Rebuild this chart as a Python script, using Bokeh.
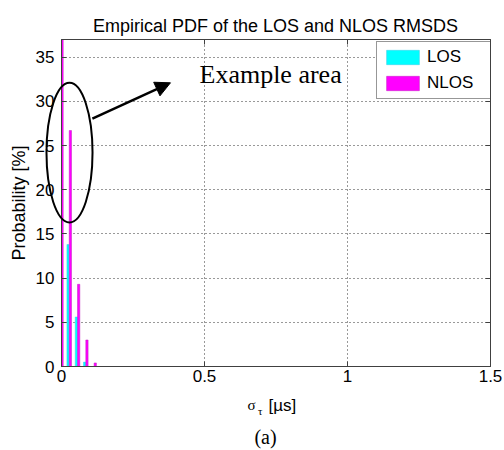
import math
from bokeh.plotting import figure
from bokeh.core.properties import value
from bokeh.models import (Range1d, FixedTicker, Label, Arrow, NormalHead, Legend,
                          LegendItem, LinearAxis, ColumnDataSource)
from bokeh.embed import file_html
from bokeh.resources import INLINE

# ---- data ----
bin_centers = [-0.002, 0.027, 0.056, 0.085, 0.114]   # sigma_tau bin centres [us]
los_pct = [80.1, 13.8, 5.6, 0.5, 0.0]                # LOS probability [%] (first bin clipped)
nlos_pct = [60.6, 26.7, 9.3, 3.0, 0.4]               # NLOS probability [%] (first bin clipped)
x_ticks = [0, 0.5, 1, 1.5]
x_tick_labels = ["0", "0.5", "1", "1.5"]
y_ticks = [0, 5, 10, 15, 20, 25, 30, 35]

dodge = 0.004
bar_w = 0.008
src = ColumnDataSource(dict(
    x_los=[c - dodge for c in bin_centers],
    x_nlos=[c + dodge for c in bin_centers],
    los=los_pct, nlos=nlos_pct))

W, H = 504, 450
FL, FR, FT, FB = 61, 490, 39, 366
X0, X1, Y0, Y1 = 0, 1.5, 0, 37

p = figure(width=W, height=H, output_backend="svg", toolbar_location=None,
           x_range=Range1d(X0, X1), y_range=Range1d(Y0, Y1),
           min_border_left=FL, min_border_right=W - FR,
           min_border_top=FT, min_border_bottom=H - FB,
           background_fill_color="white", border_fill_color="white",
           outline_line_color="#404040", outline_line_width=1)

font = "Liberation Sans"
for ax in (p.xaxis[0], p.yaxis[0]):
    ax.major_tick_in = 5
    ax.major_tick_out = 0
    ax.minor_tick_line_color = None
    ax.axis_line_color = "#404040"
    ax.major_tick_line_color = "#404040"
    ax.major_label_text_font = font
    ax.major_label_text_font_size = "17px"
    ax.major_label_text_color = "black"

p.xaxis.ticker = FixedTicker(ticks=x_ticks)
p.xaxis.major_label_overrides = {t: l for t, l in zip(x_ticks, x_tick_labels)}
p.xaxis.major_label_standoff = 3
p.yaxis.ticker = FixedTicker(ticks=y_ticks)
p.yaxis.major_label_standoff = 7

# mirrored ticks on right / top (no labels)
ra = LinearAxis(ticker=FixedTicker(ticks=y_ticks),
                major_label_overrides={t: "" for t in y_ticks},
                major_tick_in=5, major_tick_out=0, minor_tick_line_color=None,
                axis_line_color="#404040", major_tick_line_color="#404040")
ta = LinearAxis(ticker=FixedTicker(ticks=x_ticks),
                major_label_overrides={t: "" for t in x_ticks},
                major_tick_in=5, major_tick_out=0, minor_tick_line_color=None,
                axis_line_color="#404040", major_tick_line_color="#404040")
p.add_layout(ra, "right")
p.add_layout(ta, "above")

p.xgrid.ticker = FixedTicker(ticks=x_ticks)
p.ygrid.ticker = FixedTicker(ticks=y_ticks)
for g in (p.xgrid, p.ygrid):
    g.grid_line_color = "black"
    g.grid_line_alpha = 0.8
    g.grid_line_dash = "1 3"
    g.grid_line_width = 1

r_los = p.vbar(x="x_los", top="los", width=bar_w, bottom=0, source=src,
               fill_color="#00FFFF", line_color="#40C8E8", line_width=0.5)
r_nlos = p.vbar(x="x_nlos", top="nlos", width=bar_w, bottom=0, source=src,
                fill_color="#FF00FF", line_color="#C020C0", line_width=0.5)

legend = Legend(items=[LegendItem(label="LOS", renderers=[r_los]),
                       LegendItem(label="NLOS", renderers=[r_nlos])],
                location=(376 - FL, FB - 99),
                glyph_width=41, glyph_height=18, spacing=6, padding=5,
                label_standoff=4, label_width=64, label_height=18,
                label_text_font=font, label_text_font_size="17px",
                label_text_line_height=1.0, label_text_color="black",
                border_line_color="#303030", border_line_width=1,
                background_fill_color="white", background_fill_alpha=1,
                margin=0)
p.add_layout(legend, "center")

# annotation: ellipse + arrow + text
el = p.ellipse(x=[0.028], y=[24.2], width=[0.161], height=[15.8],
               fill_alpha=0, line_color="black", line_width=2)
el.level = "overlay"
p.add_layout(Arrow(end=NormalHead(size=15, fill_color="black", line_color="black"),
                   x_start=0.108, y_start=28.05, x_end=0.381, y_end=32.1,
                   line_color="black", line_width=2.5))
p.add_layout(Label(x=0.4825, y=33.0, text="Example area",
                   text_font="Liberation Serif", text_font_size="26px",
                   text_baseline="alphabetic", text_color="black"))

# texts outside the frame: text glyphs on the overlay level (not clipped)
xs = (FR - FL) / (X1 - X0)
ys = (FB - FT) / (Y1 - Y0)

def out_text(px, py, text, size, fnt=font, align="left", baseline="alphabetic", angle=0.0):
    r = p.text(x=[X0 + (px - FL) / xs], y=[Y0 + (FB - py) / ys], text=[text],
               text_font=value(fnt), text_font_size=value(size), text_align=align,
               text_baseline=baseline, angle=angle, text_color="black")
    r.level = "overlay"

out_text(275, 25, "Empirical PDF of the LOS and NLOS RMSDS", "18px", align="center")
out_text(18.5, 202.5, "Probability [%]", "18px", align="center", baseline="middle",
         angle=math.pi / 2)
out_text(247, 404, "σ", "15px", fnt="Liberation Serif")
out_text(257.5, 410, "τ", "11px", fnt="Liberation Serif")
out_text(268, 405, "[µs]", "17px")
out_text(265, 436, "(a)", "20px", fnt="Liberation Serif", align="center")

open("out.html", "w").write(file_html(p, INLINE))
